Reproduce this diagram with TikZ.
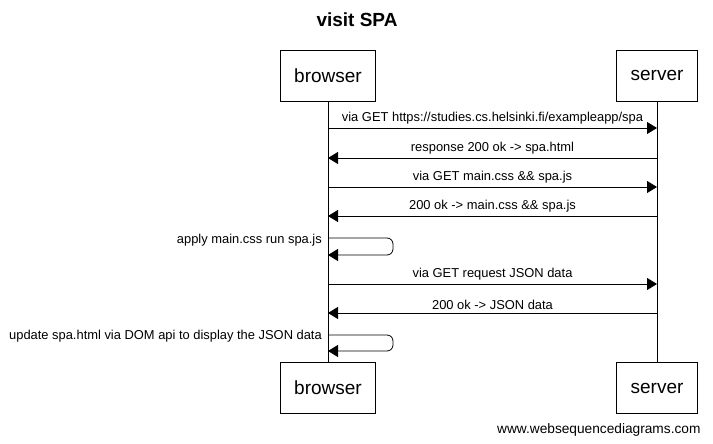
\documentclass[tikz,border=0pt]{standalone}
\usepackage{fontspec}
\setmainfont{Liberation Sans}
\usetikzlibrary{arrows.meta, positioning}

\begin{document}
\begin{tikzpicture}[x=1pt, y=-1pt, on grid, node distance=329pt,
    actor/.style={draw, fill=white, minimum height=51pt, inner xsep=14pt, line width=0.8pt, font=\fontsize{19}{21}\selectfont},
    msg/.style={-{Triangle[length=10pt,width=12pt]}, line width=0.8pt},
    lbl/.style={font=\fontsize{12.9}{15}\selectfont, inner sep=1pt, above=2pt},
    note/.style={font=\fontsize{12.9}{15}\selectfont, inner sep=1pt, anchor=east}]
   \useasboundingbox (0,0) rectangle (713,444);

   \node[font=\bfseries\fontsize{19}{22}\selectfont] (title) at (357,20) {visit SPA};

   \node[actor] (browser) at (328,75.5) {browser};
   \node[actor] (server) [right=of browser] {server};
   \node[actor] (browserB) [below=312.5pt of browser] {browser};
   \node[actor] (serverB) [below=312.5pt of server] {server};

   \draw[line width=0.8pt] (browser) -- (browserB);
   \draw[line width=0.8pt] (server) -- (serverB);

   % lifeline points
   \coordinate (b1) at (328,128); \coordinate (s1) at (657,128);
   \coordinate (b2) at (328,158); \coordinate (s2) at (657,158);
   \coordinate (b3) at (328,187); \coordinate (s3) at (657,187);
   \coordinate (b4) at (328,216); \coordinate (s4) at (657,216);
   \coordinate (a1) at (328,238); \coordinate (a2) at (328,255);
   \coordinate (b6) at (328,284); \coordinate (s6) at (657,284);
   \coordinate (b7) at (328,313); \coordinate (s7) at (657,313);
   \coordinate (u1) at (328,335); \coordinate (u2) at (328,351);

   \draw[msg] (b1) -- node[lbl] {via GET https://studies.cs.helsinki.fi/exampleapp/spa} (s1);
   \draw[msg] (s2) -- node[lbl] {response 200 ok -> spa.html} (b2);
   \draw[msg] (b3) -- node[lbl] {via GET main.css \&\& spa.js} (s3);
   \draw[msg] (s4) -- node[lbl] {200 ok -> main.css \&\& spa.js} (b4);
   \draw[msg, rounded corners=6pt] (a1) -- ++(65,0) |- (a2);
   \node[note] (apply) at (323,240) {apply main.css run spa.js};
   \draw[msg] (b6) -- node[lbl] {via GET request JSON data} (s6);
   \draw[msg] (s7) -- node[lbl] {200 ok -> JSON data} (b7);
   \draw[msg, rounded corners=6pt] (u1) -- ++(65,0) |- (u2);
   \node[note] (update) at (323,336) {update spa.html via DOM api to display the JSON data};

   \node[anchor=east, font=\fontsize{13.7}{16}\selectfont] (credit) at (704,430) {www.websequencediagrams.com};
\end{tikzpicture}
\end{document}
